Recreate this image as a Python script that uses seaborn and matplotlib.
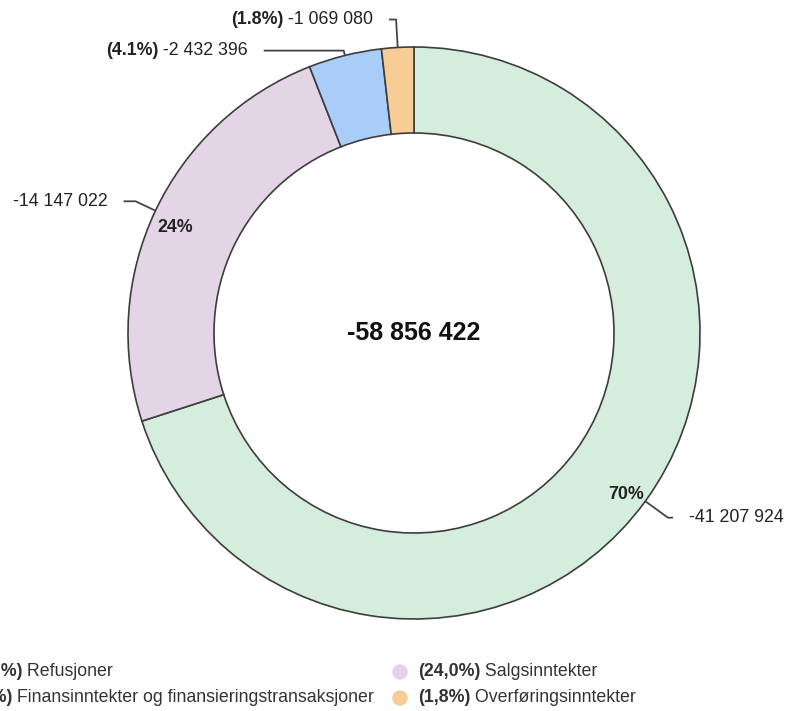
import numpy as np
import matplotlib
matplotlib.use("Agg")
import matplotlib.pyplot as plt
import seaborn as sns

# data, clockwise from 12 o'clock
categories = ["Refusjoner", "Salgsinntekter",
              "Finansinntekter og finansieringstransaksjoner", "Overføringsinntekter"]
values = [-41207924, -14147022, -2432396, -1069080]
slice_colors = ["#d4eddc", "#e3d5e6", "#a9cdf7", "#f7cd95"]
legend_order = [0, 2, 1, 3]  # left column then right column


def fmt_num(v):
    return f"{v:,}".replace(",", " ")


sns.set_theme(style="white")
plt.rcParams["font.family"] = ["Liberation Sans", "DejaVu Sans"]

W, H = 790, 711
fig = plt.figure(figsize=(W / 100, H / 100), dpi=100)
ax = fig.add_axes([0, 0, 1, 1])

cx, cy = 414, H - 333
r_out, r_in = 286, 200
edge = "#3d3d3d"
fs = 12.8

total = sum(values)
fracs = [v / total for v in values]
palette = sns.color_palette(slice_colors)

ax.pie(fracs, colors=palette, startangle=90, counterclock=False,
       center=(cx, cy), radius=r_out, frame=True,
       wedgeprops=dict(width=r_out - r_in, edgecolor=edge, linewidth=1.2))
ax.set_xlim(0, W)
ax.set_ylim(0, H)
ax.axis("off")

ax.text(cx, cy, fmt_num(total), ha="center", va="center",
        fontsize=18, fontweight="bold", color="#111111")

# leader lines / outside labels
radial_len = [28, 22, 5, 28]
horiz_len = [5, 12, 80, 7]
show_inner = [True, True, False, False]
cum = 0.0
for i, f in enumerate(fracs):
    mid = (cum + f / 2) * 2 * np.pi
    cum += f
    dx, dy = np.sin(mid), np.cos(mid)
    x0, y0 = cx + r_out * dx, cy + r_out * dy
    x1, y1 = x0 + radial_len[i] * dx, y0 + radial_len[i] * dy
    side = 1 if dx > 0 else -1
    x2 = x1 + side * horiz_len[i]
    ax.plot([x0, x1, x2], [y0, y1, y1], color="#444444", lw=1.3,
            solid_capstyle="butt", zorder=3)
    pct = f * 100
    pct_txt = f"{pct:.0f}%" if pct >= 10 else f"{pct:.1f}%"
    num = fmt_num(values[i])
    ha = "left" if side > 0 else "right"
    tx = x2 + side * 16
    if show_inner[i]:
        ax.text(tx, y1, num, ha=ha, va="center", fontsize=fs, color="#222222")
        ix = x0 - 1 if side > 0 else x0 + 2
        iy = y0 + 7 if side > 0 else y0 - 17
        ax.text(ix, iy, pct_txt, ha="right" if side > 0 else "left",
                va="center", fontsize=fs, fontweight="bold", color="#222222")
    else:
        t = ax.text(tx, y1, " " + num, ha="right", va="center",
                    fontsize=fs, color="#222222")
        ax.annotate(f"({pct_txt})", xy=(0, 0.5), xycoords=t, ha="right",
                    va="center", fontsize=fs, fontweight="bold",
                    color="#222222")

# legend (left column runs past the left edge, as in the original)
col_x = [-40, 418]
row_y = [H - 672, H - 698]
for k, idx in enumerate(legend_order):
    col, row = divmod(k, 2)
    x, y = col_x[col], row_y[row]
    ax.scatter([x - 18], [y], s=125, color=palette[idx], clip_on=False,
               edgecolors="none")
    pct_leg = f"({fracs[idx] * 100:.1f}%)".replace(".", ",")
    t = ax.text(x, y, pct_leg, ha="left", va="center", fontsize=fs,
                fontweight="bold", color="#333333")
    ax.annotate(" " + categories[idx], xy=(1, 0.5), xycoords=t, ha="left",
                va="center", fontsize=fs, color="#333333")

fig.savefig("out.png", dpi=100, facecolor="white")
